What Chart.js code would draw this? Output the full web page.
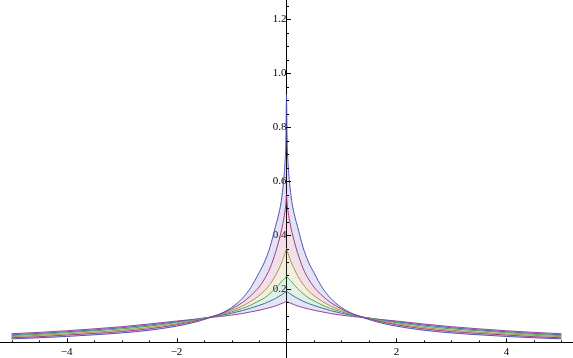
<!DOCTYPE html>
<html>
<head>
<meta charset="utf-8">
<script src="https://cdn.jsdelivr.net/npm/chart.js@4/dist/chart.umd.min.js"></script>
<style>
html,body{margin:0;padding:0;background:#fff;}
#wrap{width:573px;height:358px;}
</style>
</head>
<body>
<div id="wrap"><canvas id="c" width="573" height="358"></canvas></div>
<script>
const xs = [-5,-4.5,-4,-3.5,-3,-2.5,-2,-1.7,-1.4,-1.2,-1,-0.8,-0.65,-0.5,-0.4,-0.3,-0.2,-0.15,-0.1,-0.05,-0.03,-0.01,0,0.01,0.03,0.05,0.1,0.15,0.2,0.3,0.4,0.5,0.65,0.8,1,1.2,1.4,1.7,2,2.5,3,3.5,4,4.5,5];

const curve1 = [0.015,0.019,0.024,0.030,0.037,0.047,0.062,0.075,0.093,0.108,0.131,0.166,0.205,0.26,0.3,0.355,0.432,0.47,0.52,0.605,0.66,0.76,
  0.92,
  0.76,0.66,0.605,0.52,0.47,0.432,0.355,0.3,0.26,0.205,0.166,0.131,0.108,0.093,0.075,0.062,0.047,0.037,0.030,0.024,0.019,0.015];
const curve2 = [0.019,0.023,0.029,0.035,0.042,0.052,0.067,0.079,0.095,0.108,0.126,0.15,0.175,0.207,0.237,0.277,0.335,0.37,0.41,0.46,0.485,0.52,
  0.55,
  0.52,0.485,0.46,0.41,0.37,0.335,0.277,0.237,0.207,0.175,0.15,0.126,0.108,0.095,0.079,0.067,0.052,0.042,0.035,0.029,0.023,0.019];
const curve3 = [0.023,0.028,0.033,0.040,0.047,0.057,0.071,0.082,0.095,0.106,0.12,0.137,0.154,0.175,0.193,0.217,0.25,0.27,0.292,0.318,0.33,0.343,
  0.35,
  0.343,0.33,0.318,0.292,0.27,0.25,0.217,0.193,0.175,0.154,0.137,0.12,0.106,0.095,0.082,0.071,0.057,0.047,0.040,0.033,0.028,0.023];
const curve4 = [0.027,0.032,0.038,0.045,0.052,0.062,0.075,0.084,0.095,0.104,0.115,0.128,0.14,0.156,0.167,0.183,0.202,0.213,0.226,0.236,0.24,0.244,
  0.247,
  0.244,0.24,0.236,0.226,0.213,0.202,0.183,0.167,0.156,0.14,0.128,0.115,0.104,0.095,0.084,0.075,0.062,0.052,0.045,0.038,0.032,0.027];
const curve5 = [0.030,0.035,0.041,0.048,0.056,0.066,0.078,0.086,0.095,0.102,0.11,0.12,0.129,0.139,0.146,0.155,0.165,0.171,0.177,0.184,0.187,0.19,
  0.191,
  0.19,0.187,0.184,0.177,0.171,0.165,0.155,0.146,0.139,0.129,0.12,0.11,0.102,0.095,0.086,0.078,0.066,0.056,0.048,0.041,0.035,0.030];
const curve6 = [0.034,0.039,0.045,0.052,0.06,0.07,0.081,0.087,0.094,0.098,0.103,0.109,0.115,0.121,0.126,0.131,0.137,0.141,0.145,0.149,0.151,0.153,
  0.154,
  0.153,0.151,0.149,0.145,0.141,0.137,0.131,0.126,0.121,0.115,0.109,0.103,0.098,0.094,0.087,0.081,0.07,0.06,0.052,0.045,0.039,0.034];

const xTickLabels = [-4,-2,2,4];
const yTickLabels = [0.2,0.4,0.6,0.8,1.0,1.2];

const series = [curve1, curve2, curve3, curve4, curve5, curve6];
const colors = [[80,80,185],[170,60,125],[175,155,75],[75,165,95],[70,100,175],[165,60,160]];

const datasets = series.map((arr, i) => ({
  data: xs.map((x, k) => ({x: x, y: arr[k]})),
  borderColor: `rgb(${colors[i].join(',')})`,
  backgroundColor: `rgba(${colors[i].join(',')},0.16)`,
  borderWidth: 1,
  pointRadius: 0,
  cubicInterpolationMode: 'monotone',
  fill: i < series.length - 1 ? '+1' : false
}));

const tickPlugin = {
  id: 'axisTicks',
  afterDraw(chart) {
    const ctx = chart.ctx;
    const xs_ = chart.scales.x, ys_ = chart.scales.y;
    const x0 = xs_.getPixelForValue(0) , y0 = ys_.getPixelForValue(0);
    ctx.save();
    ctx.strokeStyle = '#000';
    ctx.lineWidth = 1;
    ctx.beginPath();
    for (let k = -10; k <= 10; k++) {
      if (k === 0) continue;
      const v = k * 0.5;
      const px = Math.round(xs_.getPixelForValue(v)) + 0.5;
      const len = (k % 4 === 0) ? 4.5 : 2.5;
      ctx.moveTo(px, y0);
      ctx.lineTo(px, y0 - len);
    }
    for (let k = 1; k <= 25; k++) {
      const v = k * 0.05;
      const py = Math.round(ys_.getPixelForValue(v)) + 0.5;
      const len = (k % 4 === 0) ? 4.5 : 2.5;
      ctx.moveTo(x0, py);
      ctx.lineTo(x0 + len, py);
    }
    ctx.stroke();
    ctx.restore();
  }
};

const noSpace = (s) => {
  if (s.isHorizontal()) s.height = 0; else s.width = 0;
  s.paddingTop = 0; s.paddingBottom = 0; s.paddingLeft = 0; s.paddingRight = 0;
};

new Chart(document.getElementById('c'), {
  type: 'line',
  data: { datasets },
  plugins: [tickPlugin],
  options: {
    responsive: false,
    animation: false,
    layout: { padding: 0 },
    plugins: { legend: { display: false }, tooltip: { enabled: false } },
    scales: {
      x: {
        type: 'linear',
        min: -5.21, max: 5.21,
        position: { y: 0 },
        afterFit: noSpace,
        grid: { drawOnChartArea: false, drawTicks: false },
        border: { display: true, color: '#000', width: 1 },
        afterBuildTicks: (s) => { s.ticks = xTickLabels.map(v => ({value: v})); },
        ticks: {
          padding: 3,
          color: '#000',
          font: { family: 'Liberation Serif', size: 11 },
          maxRotation: 0,
          autoSkip: false,
          callback: (v) => (v < 0 ? '\u2212' : '') + Math.abs(v)
        }
      },
      y: {
        type: 'linear',
        min: -0.056, max: 1.2714,
        position: { x: 0 },
        afterFit: noSpace,
        grid: { drawOnChartArea: false, drawTicks: false },
        border: { display: true, color: '#000', width: 1 },
        afterBuildTicks: (s) => { s.ticks = yTickLabels.map(v => ({value: v})); },
        ticks: {
          padding: 4,
          color: '#000',
          font: { family: 'Liberation Serif', size: 11 },
          autoSkip: false,
          callback: (v) => Number(v).toFixed(1)
        }
      }
    }
  }
});
</script>
</body>
</html>
